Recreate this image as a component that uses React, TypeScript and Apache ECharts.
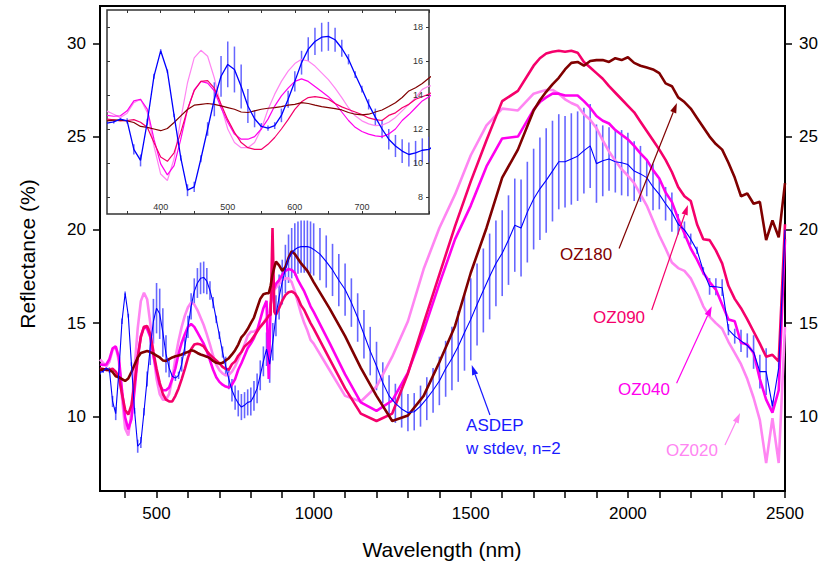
import React, { useEffect, useRef } from 'react';
import * as echarts from 'echarts';

const FONT = "'Liberation Sans', Arial, Helvetica, sans-serif";

// ---------- data ----------
const ozWl = [320,330,340,350,360,370,380,390,400,410,420,430,440,450,460,470,480,490,500,510,520,530,540,550,560,570,580,590,600,610,620,630,640,650,660,670,680,690,700,710,720,730,740,750,760,770,780,790,800,810,820,830,840,850,
  857,863,869,875,
  880,890,900,910,920,930,940,950,960,970,980,990,1000,
  1050,1100,1150,1200,1250,1300,1350,1400,1450,1500,1550,1600,1650,1700,
  1720,1740,1760,1780,1800,1820,1840,1860,1880,1900,1920,1940,1960,1980,2000,2020,2040,2060,2080,2100,2120,2140,2160,2180,2200,2220,2240,2260,2280,2300,2320,2340,2360,2380,2400,2420,2440,2460,2480,2500];

const oz180 = [12.48,12.52,12.52,12.48,12.38,12.15,12.1,12.0,11.9,12.03,12.38,12.77,13.15,13.4,13.45,13.5,13.45,13.36,13.26,13.16,13.0,12.97,13.07,13.16,13.22,13.26,13.32,13.4,13.45,13.55,13.5,13.4,13.32,13.26,13.2,13.12,12.97,12.87,12.83,12.87,13.0,13.12,13.32,13.55,13.85,14.24,14.43,14.68,15.0,15.3,15.8,16.3,16.55,16.6,
  16.6,17.0,17.6,18.0,
  18.3,18.1,17.8,18.0,18.5,18.85,18.7,18.45,18.2,18.0,17.8,17.5,17.2,
  15.8,14.3,12.6,11.1,9.75,10.05,11.1,12.9,14.85,17.7,20.1,22.8,24.3,26.4,
  26.95,27.4,27.8,28.15,28.6,28.95,29.0,28.8,29.05,29.1,29.1,29.0,29.2,29.1,29.25,28.95,28.8,28.7,28.6,28.4,27.85,27.7,27.1,26.85,26.5,26.0,25.5,25.0,24.6,24.3,23.6,22.8,21.8,21.95,21.4,21.5,19.45,20.5,19.6,22.5];

const oz090 = [12.58,12.54,12.48,12.5,12.55,12.4,12.1,11.2,10.35,10.1,10.6,11.8,13.15,14.25,14.8,14.85,14.4,13.45,12.55,11.8,11.2,10.9,10.8,10.8,11.1,11.5,12.0,12.55,13.15,13.6,13.85,13.9,13.85,13.75,13.5,13.3,13.15,13.0,12.85,12.65,12.55,12.5,12.8,12.95,13.25,13.45,13.75,13.9,14.05,14.3,14.55,14.8,15.0,15.2,
  15.4,15.45,20.1,15.6,
  15.45,15.8,16.2,16.5,16.65,16.7,16.6,16.35,15.95,15.7,15.35,15.0,14.7,
  13.1,11.5,10.15,9.75,10.15,12.3,15.0,17.6,20.2,22.6,24.8,26.9,27.45,28.8,
  29.2,29.45,29.55,29.6,29.55,29.6,29.5,29.0,28.7,28.4,28.1,27.7,27.35,27.0,26.65,26.3,25.8,25.3,24.8,24.3,23.75,23.1,22.3,21.8,21.55,20.3,19.5,19.45,18.9,18.2,17.0,16.3,15.8,15.2,14.55,13.9,13.2,13.3,12.95,20.3];

const oz040 = [12.8,12.75,12.78,13.07,13.65,13.75,13.17,11.4,9.95,9.3,9.85,11.4,13.15,14.3,14.8,14.7,14.25,13.25,12.4,11.7,11.4,11.4,11.55,12.0,12.58,13.35,13.95,14.4,14.8,14.95,14.8,14.5,14.2,13.9,13.5,13.0,12.5,12.1,11.85,11.7,11.6,11.55,11.7,12.0,12.5,12.85,13.25,13.65,13.9,14.2,14.6,15.2,15.8,16.2,
  12.0,16.0,16.6,16.9,
  17.1,17.3,17.6,17.8,17.9,17.85,17.7,17.3,17.0,16.7,16.3,15.9,15.6,
  13.95,12.25,10.75,10.3,10.85,12.35,14.6,17.1,19.5,21.3,23.4,24.9,25.0,26.45,
  26.85,27.1,27.3,27.3,27.2,27.2,27.2,26.9,26.55,26.1,25.85,25.7,25.35,25.1,24.85,24.5,24.1,23.75,23.2,22.75,22.0,21.5,20.6,19.8,19.0,18.4,17.7,17.2,16.8,16.0,15.2,15.1,13.95,13.85,13.4,12.0,10.9,10.2,11.4,19.5];

const oz020 = [13.05,12.87,12.67,12.93,13.55,13.75,12.97,11.0,9.35,8.97,10.25,12.58,14.72,16.18,16.63,16.28,15.0,13.35,12.0,11.2,10.9,10.9,11.2,12.0,13.15,14.05,14.8,15.4,15.85,16.1,16.0,15.7,15.3,14.9,14.4,13.85,13.25,12.78,12.48,12.3,12.2,12.23,12.4,12.68,13.07,13.45,13.85,14.33,14.53,14.55,14.65,14.8,15.0,15.3,
  15.4,16.0,16.5,16.8,
  16.9,17.1,17.3,17.4,17.4,17.2,16.7,16.1,15.5,15.0,14.6,14.1,13.9,
  12.5,11.1,10.8,11.6,13.2,15.1,17.9,20.1,21.9,24.0,25.6,26.5,26.4,27.3,
  27.4,27.5,27.5,27.3,27.0,26.8,26.65,26.2,25.9,25.45,24.8,24.2,23.7,23.25,22.9,22.5,21.9,21.3,20.5,19.7,19.0,18.25,17.95,17.8,17.4,16.7,15.9,15.35,15.0,14.7,14.0,13.4,12.8,12.0,11.0,9.8,7.5,9.9,7.5,14.8];

const asdWl = [320,330,340,350,360,370,380,390,400,410,420,430,440,450,460,470,480,490,500,510,520,530,540,550,560,570,580,590,600,610,620,630,640,650,660,670,680,690,700,710,720,730,740,750,760,770,780,790,800,810,820,830,840,850,860,870,880,890,900,910,920,930,940,950,960,970,980,990,1000,
  1020,1040,1060,1080,1100,1120,1140,1160,1180,1200,1220,1240,1260,1280,1300,1320,1340,1360,1380,1400,1420,1440,1460,1480,1500,1520,1540,1560,1580,1600,1620,1640,1660,1680,1700,1720,1740,1760,1780,1800,1820,1840,1860,1880,1900,1920,1940,1960,1980,2000,2020,2040,2060,2080,2100,2120,2140,2160,2180,2200,2220,2240,2260,2280,2300,2320,2340,2360,2380,2400,2420,2440,2460,2480,2500];

const asdep = [12.35,12.42,12.58,12.48,10.8,10.15,12.4,15.1,16.6,15.4,12.8,10.3,8.4,8.6,10.25,12.0,13.75,15.1,15.8,15.5,14.5,13.35,12.6,12.15,12.05,12.2,12.8,13.75,14.8,15.9,16.7,17.15,17.4,17.45,17.25,16.75,16.1,15.2,14.35,13.45,12.7,12.0,11.4,11.0,10.7,10.5,10.6,10.75,10.8,11.1,11.5,12.2,12.95,13.6,12.8,14.0,15.4,16.4,17.2,17.9,18.45,18.75,18.95,19.05,19.1,19.1,19.1,19.05,18.95,
  18.7,18.3,17.85,17.3,16.8,16.1,15.3,14.4,13.5,12.7,11.8,11.1,10.7,10.4,10.2,10.25,10.55,10.95,11.4,11.9,12.55,13.1,13.75,14.5,15.2,16.0,16.75,17.5,18.2,18.75,19.45,20.25,20.1,20.95,21.65,22.2,22.65,23.15,23.65,23.65,23.8,23.95,24.25,24.5,23.55,23.7,23.8,23.65,23.6,23.5,23.15,23.0,22.8,22.3,21.9,21.4,20.95,20.3,20.0,19.5,18.9,17.8,16.97,16.95,16.9,14.65,14.3,14.05,13.8,13.45,12.4,12.4,10.55,12.6,20.0];

const asdepSd = [0.1,0.1,0.1,0.15,0.3,0.35,0.2,0.15,0.1,0.1,0.1,0.15,0.35,0.3,0.2,0.4,1.0,1.2,1.35,1.35,1.3,1.0,0.5,0.2,0.15,0.2,0.4,0.5,0.6,0.7,0.7,0.8,0.85,0.85,0.7,0.5,0.3,0.2,0.2,0.3,0.5,0.55,0.6,0.65,0.7,0.7,0.7,0.7,0.75,0.8,0.8,0.8,0.8,0.9,1.0,1.0,1.1,1.2,1.2,1.3,1.3,1.35,1.4,1.4,1.4,1.4,1.4,1.4,1.4,
  1.4,1.4,1.4,1.4,1.4,1.3,1.3,1.3,1.3,1.3,1.1,1.1,1.05,1.0,1.0,1.0,1.1,1.15,1.2,1.3,1.5,1.7,1.9,2.05,2.2,2.2,2.25,2.3,2.3,2.3,2.4,2.5,2.6,2.7,2.7,2.75,2.8,2.7,2.55,2.45,2.45,2.4,2.3,2.25,2.1,1.9,1.7,1.65,1.75,1.7,1.6,1.5,1.0,1.25,0.8,0.9,1.05,0.55,0.45,0.3,0.2,0.2,0.45,0.45,0.45,0.3,0.4,0.6,0.65,0.9,0.9,1.25,0.3,0.3,0.2];

const mainXLabels = [500, 1000, 1500, 2000, 2500];
const mainXTicks = [400,500,600,700,800,900,1000,1100,1200,1300,1400,1500,1600,1700,1800,1900,2000,2100,2200,2300,2400,2500];
const mainYLabels = [10, 15, 20, 25, 30];
const insetXLabels = [400, 500, 600, 700];
const insetXTicks = [350,400,450,500,550,600,650,700,750,800];
const insetYLabels = [8, 10, 12, 14, 16, 18];

const COLORS = {
  oz180: '#800000',
  oz090: '#f5006b',
  oz040: '#ff00ee',
  oz020: '#ff85f2',
  asdep: '#0000ff',
  err: '#4b4bff',
};

// annotation labels & arrows (data coordinates of main plot)
const notes = [
  { text: 'OZ180', color: COLORS.oz180, at: [1867, 18.7], from: [1972, 19.0], to: [2156, 26.8] },
  { text: 'OZ090', color: COLORS.oz090, at: [1972, 15.32], from: [2076, 15.7], to: [2191, 21.33] },
  { text: 'OZ040', color: COLORS.oz040, at: [2051, 11.46], from: [2155, 11.77], to: [2267, 15.9] },
  { text: 'OZ020', color: COLORS.oz020, at: [2204, 8.19], from: [2309, 8.46], to: [2357, 10.18] },
];
const asdepNote = { lines: ['ASDEP', 'w stdev, n=2'], at: [[1485, 9.5], [1485, 8.27]], from: [1561, 10.07], to: [1503, 12.75] };

function pairs(xs: number[], ys: number[]) {
  const n = Math.min(xs.length, ys.length);
  const out: number[][] = [];
  for (let i = 0; i < n; i++) out.push([xs[i], ys[i]]);
  return out;
}
function errPairs(xs: number[], ys: number[], sd: number[]) {
  const n = Math.min(xs.length, ys.length, sd.length);
  const out: number[][] = [];
  for (let i = 0; i < n; i++) out.push([xs[i], ys[i] - sd[i], ys[i] + sd[i]]);
  return out;
}

const errRender = (width: number) => (params: any, api: any) => {
  const x = api.value(0);
  const a = api.coord([x, api.value(1)]);
  const b = api.coord([x, api.value(2)]);
  return {
    type: 'line',
    shape: { x1: a[0], y1: a[1], x2: b[0], y2: b[1] },
    style: { stroke: COLORS.err, lineWidth: width, opacity: 0.85 },
  };
};

const plain = (v: number) => String(v);

function buildOption(): any {
  const ozSeries = [
    { name: 'OZ020', data: pairs(ozWl, oz020), color: COLORS.oz020 },
    { name: 'OZ040', data: pairs(ozWl, oz040), color: COLORS.oz040 },
    { name: 'OZ090', data: pairs(ozWl, oz090), color: COLORS.oz090 },
    { name: 'OZ180', data: pairs(ozWl, oz180), color: COLORS.oz180 },
  ];
  const asd = pairs(asdWl, asdep);
  const err = errPairs(asdWl, asdep, asdepSd);

  const series: any[] = [];
  // main plot
  series.push({ type: 'custom', xAxisIndex: 0, yAxisIndex: 0, renderItem: errRender(1.6), data: err, encode: { x: 0, y: [1, 2] }, clip: true, silent: true, z: 2 });
  ozSeries.forEach((s) => series.push({ type: 'line', name: s.name, xAxisIndex: 0, yAxisIndex: 0, data: s.data, showSymbol: false, symbol: 'none', clip: true, silent: true, lineStyle: { color: s.color, width: 2.6 }, z: 3 }));
  series.push({ type: 'line', name: 'ASDEP', xAxisIndex: 0, yAxisIndex: 0, data: asd, showSymbol: false, symbol: 'none', clip: true, silent: true, lineStyle: { color: COLORS.asdep, width: 1.1 }, z: 4 });
  // inset
  series.push({ type: 'custom', xAxisIndex: 1, yAxisIndex: 2, renderItem: errRender(1.5), data: err, encode: { x: 0, y: [1, 2] }, clip: true, silent: true, z: 12 });
  ozSeries.forEach((s) => series.push({ type: 'line', xAxisIndex: 1, yAxisIndex: 2, data: s.data, showSymbol: false, symbol: 'none', clip: true, silent: true, lineStyle: { color: s.color, width: 1.2 }, z: 13 }));
  series.push({ type: 'line', xAxisIndex: 1, yAxisIndex: 2, data: asd, showSymbol: false, symbol: 'none', clip: true, silent: true, lineStyle: { color: COLORS.asdep, width: 1.3 }, z: 14 });

  const mainLabel = { color: '#000', fontSize: 17, fontFamily: FONT, formatter: plain };
  const insetLabel = { color: '#333', fontSize: 9, fontFamily: FONT, formatter: plain };

  return {
    animation: false,
    backgroundColor: '#fff',
    grid: [
      { left: 100, top: 6, width: 685, height: 485, show: true, borderColor: '#000', borderWidth: 2, backgroundColor: 'transparent', z: 1 },
      { left: 107, top: 10, width: 322, height: 204, show: true, borderColor: '#333', borderWidth: 1.5, backgroundColor: '#fff', z: 10 },
    ],
    xAxis: [
      {
        gridIndex: 0, type: 'value', min: 320, max: 2500,
        axisLine: { show: false },
        axisTick: { show: true, length: 7, inside: false, customValues: mainXTicks, lineStyle: { color: '#000', width: 1.5 } },
        axisLabel: { ...mainLabel, margin: 14, customValues: mainXLabels },
        splitLine: { show: false },
      },
      {
        gridIndex: 1, type: 'value', min: 320, max: 800, position: 'bottom', z: 15,
        axisLine: { show: false },
        axisTick: { show: true, length: 3, inside: true, customValues: insetXTicks, lineStyle: { color: '#333', width: 1 } },
        axisLabel: { ...insetLabel, inside: true, margin: 3, customValues: insetXLabels },
        splitLine: { show: false },
      },
      {
        gridIndex: 1, type: 'value', min: 320, max: 800, position: 'top', z: 15,
        axisLine: { show: false },
        axisTick: { show: true, length: 3, inside: true, customValues: insetXTicks, lineStyle: { color: '#333', width: 1 } },
        axisLabel: { show: false },
        splitLine: { show: false },
      },
    ],
    yAxis: [
      {
        gridIndex: 0, type: 'value', min: 6, max: 32, position: 'left',
        axisLine: { show: false },
        axisTick: { show: true, length: 7, inside: false, customValues: mainYLabels, lineStyle: { color: '#000', width: 1.5 } },
        axisLabel: { ...mainLabel, margin: 14, customValues: mainYLabels },
        splitLine: { show: false },
      },
      {
        gridIndex: 0, type: 'value', min: 6, max: 32, position: 'right',
        axisLine: { show: false },
        axisTick: { show: true, length: 7, inside: false, customValues: mainYLabels, lineStyle: { color: '#000', width: 1.5 } },
        axisLabel: { ...mainLabel, margin: 14, customValues: mainYLabels },
        splitLine: { show: false },
      },
      {
        gridIndex: 1, type: 'value', min: 7, max: 19, position: 'right', z: 15,
        axisLine: { show: false },
        axisTick: { show: true, length: 3, inside: true, customValues: insetYLabels, lineStyle: { color: '#333', width: 1 } },
        axisLabel: { ...insetLabel, inside: true, margin: 6, customValues: insetYLabels },
        splitLine: { show: false },
      },
      {
        gridIndex: 1, type: 'value', min: 7, max: 19, position: 'left', z: 15,
        axisLine: { show: false },
        axisTick: { show: true, length: 3, inside: true, customValues: insetYLabels, lineStyle: { color: '#333', width: 1 } },
        axisLabel: { show: false },
        splitLine: { show: false },
      },
    ],
    series,
  };
}

function arrow(p1: number[], p2: number[], color: string) {
  const dx = p2[0] - p1[0];
  const dy = p2[1] - p1[1];
  const len = Math.sqrt(dx * dx + dy * dy) || 1;
  const ux = dx / len, uy = dy / len;
  const hl = 10, hw = 3.2;
  const bx = p2[0] - ux * hl, by = p2[1] - uy * hl;
  return [
    { type: 'line', z: 100, shape: { x1: p1[0], y1: p1[1], x2: bx, y2: by }, style: { stroke: color, lineWidth: 1.2 } },
    { type: 'polygon', z: 100, shape: { points: [[p2[0], p2[1]], [bx - uy * hw, by + ux * hw], [bx + uy * hw, by - ux * hw]] }, style: { fill: color } },
  ];
}

function buildGraphics(chart: any) {
  const toPx = (v: number[]) => chart.convertToPixel({ xAxisIndex: 0, yAxisIndex: 0 }, v) as number[];
  const els: any[] = [];
  notes.forEach((n) => {
    const p = toPx(n.at);
    els.push({ type: 'text', z: 100, x: p[0], y: p[1], style: { text: n.text, fill: n.color, font: `17px ${FONT}`, textAlign: 'center', textVerticalAlign: 'middle', align: 'center', verticalAlign: 'middle' } });
    els.push(...arrow(toPx(n.from), toPx(n.to), n.color));
  });
  asdepNote.lines.forEach((t, i) => {
    const p = toPx(asdepNote.at[i]);
    els.push({ type: 'text', z: 100, x: p[0], y: p[1], style: { text: t, fill: '#1a1aff', font: `17px ${FONT}`, textAlign: 'left', textVerticalAlign: 'middle', align: 'left', verticalAlign: 'middle' } });
  });
  els.push(...arrow(toPx(asdepNote.from), toPx(asdepNote.to), '#1a1aff'));
  // axis titles
  els.push({ type: 'text', z: 100, x: 442, y: 549, style: { text: 'Wavelength (nm)', fill: '#000', font: `21px ${FONT}`, textAlign: 'center', textVerticalAlign: 'middle', align: 'center', verticalAlign: 'middle' } });
  els.push({ type: 'text', z: 100, x: 27, y: 254, rotation: Math.PI / 2, style: { text: 'Reflectance (%)', fill: '#000', font: `21px ${FONT}`, textAlign: 'center', textVerticalAlign: 'middle', align: 'center', verticalAlign: 'middle' } });
  return els;
}

export default function App() {
  const ref = useRef<HTMLDivElement>(null);
  useEffect(() => {
    const el = ref.current;
    if (!el) return;
    const chart = echarts.init(el, undefined, { renderer: 'svg' });
    chart.setOption(buildOption());
    chart.setOption({ graphic: buildGraphics(chart) });
    return () => chart.dispose();
  }, []);
  return <div ref={ref} style={{ position: 'fixed', left: 0, top: 0, width: 823, height: 565, background: '#fff' }} />;
}
